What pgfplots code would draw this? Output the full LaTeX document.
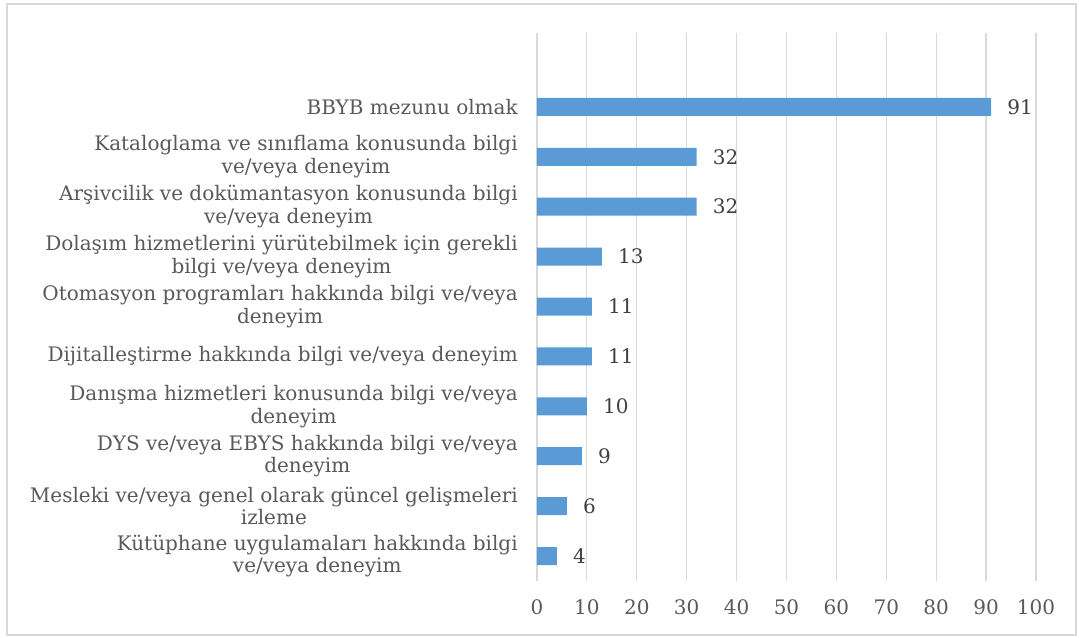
\documentclass[border=0pt]{standalone}
\usepackage{pgfplots}
\pgfplotsset{compat=1.18}
\usepackage{fontspec}
\setmainfont{DejaVu Serif}
\definecolor{barblue}{HTML}{5B9BD5}
\definecolor{gridgray}{HTML}{D9D9D9}
\definecolor{txtgray}{HTML}{595959}
\definecolor{valgray}{HTML}{404040}
\begin{document}
\begin{tikzpicture}
\path[use as bounding box] (-402.75pt,-42pt) rectangle (406.5pt,435.75pt);
\draw[gridgray, line width=0.9pt] (-397.5pt,-40.5pt) rectangle (404.25pt,432.75pt);
\begin{axis}[
  at={(0,0)}, anchor=south west,
  width=374.25pt, height=411pt, scale only axis,
  xbar, bar width=13.5pt,
  xmin=0, xmax=100, ymin=-0.5, ymax=10.48,
  xtick={0,10,...,100},
  ytick={0,...,9},
  yticklabels={
    {Kütüphane uygulamaları hakkında bilgi\\ve/veya deneyim},
    {Mesleki ve/veya genel olarak güncel gelişmeleri\\izleme},
    {DYS ve/veya EBYS hakkında bilgi ve/veya\\deneyim},
    {Danışma hizmetleri konusunda bilgi ve/veya\\deneyim},
    {Dijitalleştirme hakkında bilgi ve/veya deneyim},
    {Otomasyon programları hakkında bilgi ve/veya\\deneyim},
    {Dolaşım hizmetlerini yürütebilmek için gerekli\\bilgi ve/veya deneyim},
    {Arşivcilik ve dokümantasyon konusunda bilgi\\ve/veya deneyim},
    {Kataloglama ve sınıflama konusunda bilgi\\ve/veya deneyim},
    {BBYB mezunu olmak}},
  xmajorgrids,
  major grid style={gridgray, line width=0.9pt},
  axis line style={draw=none},
  major tick length=0pt,
  /pgf/number format/assume math mode=true,
  x tick label style={font=\fontsize{15}{17}\selectfont, text=txtgray, anchor=center, yshift=-19.5pt, inner sep=0pt},
  y tick label style={font=\fontsize{15}{17}\selectfont, text=txtgray, anchor=east, align=center, xshift=-14.25pt, inner sep=0pt},
  nodes near coords,
  nodes near coords style={font=\fontsize{15}{17}\selectfont, text=valgray, anchor=west, xshift=12pt, inner sep=0pt},
  clip=false,
]
\addplot[fill=barblue, draw=none] coordinates {
  (4,0) (6,1) (9,2) (10,3) (11,4) (11,5) (13,6) (32,7) (32,8) (91,9)
};
\end{axis}
\end{tikzpicture}
\end{document}
